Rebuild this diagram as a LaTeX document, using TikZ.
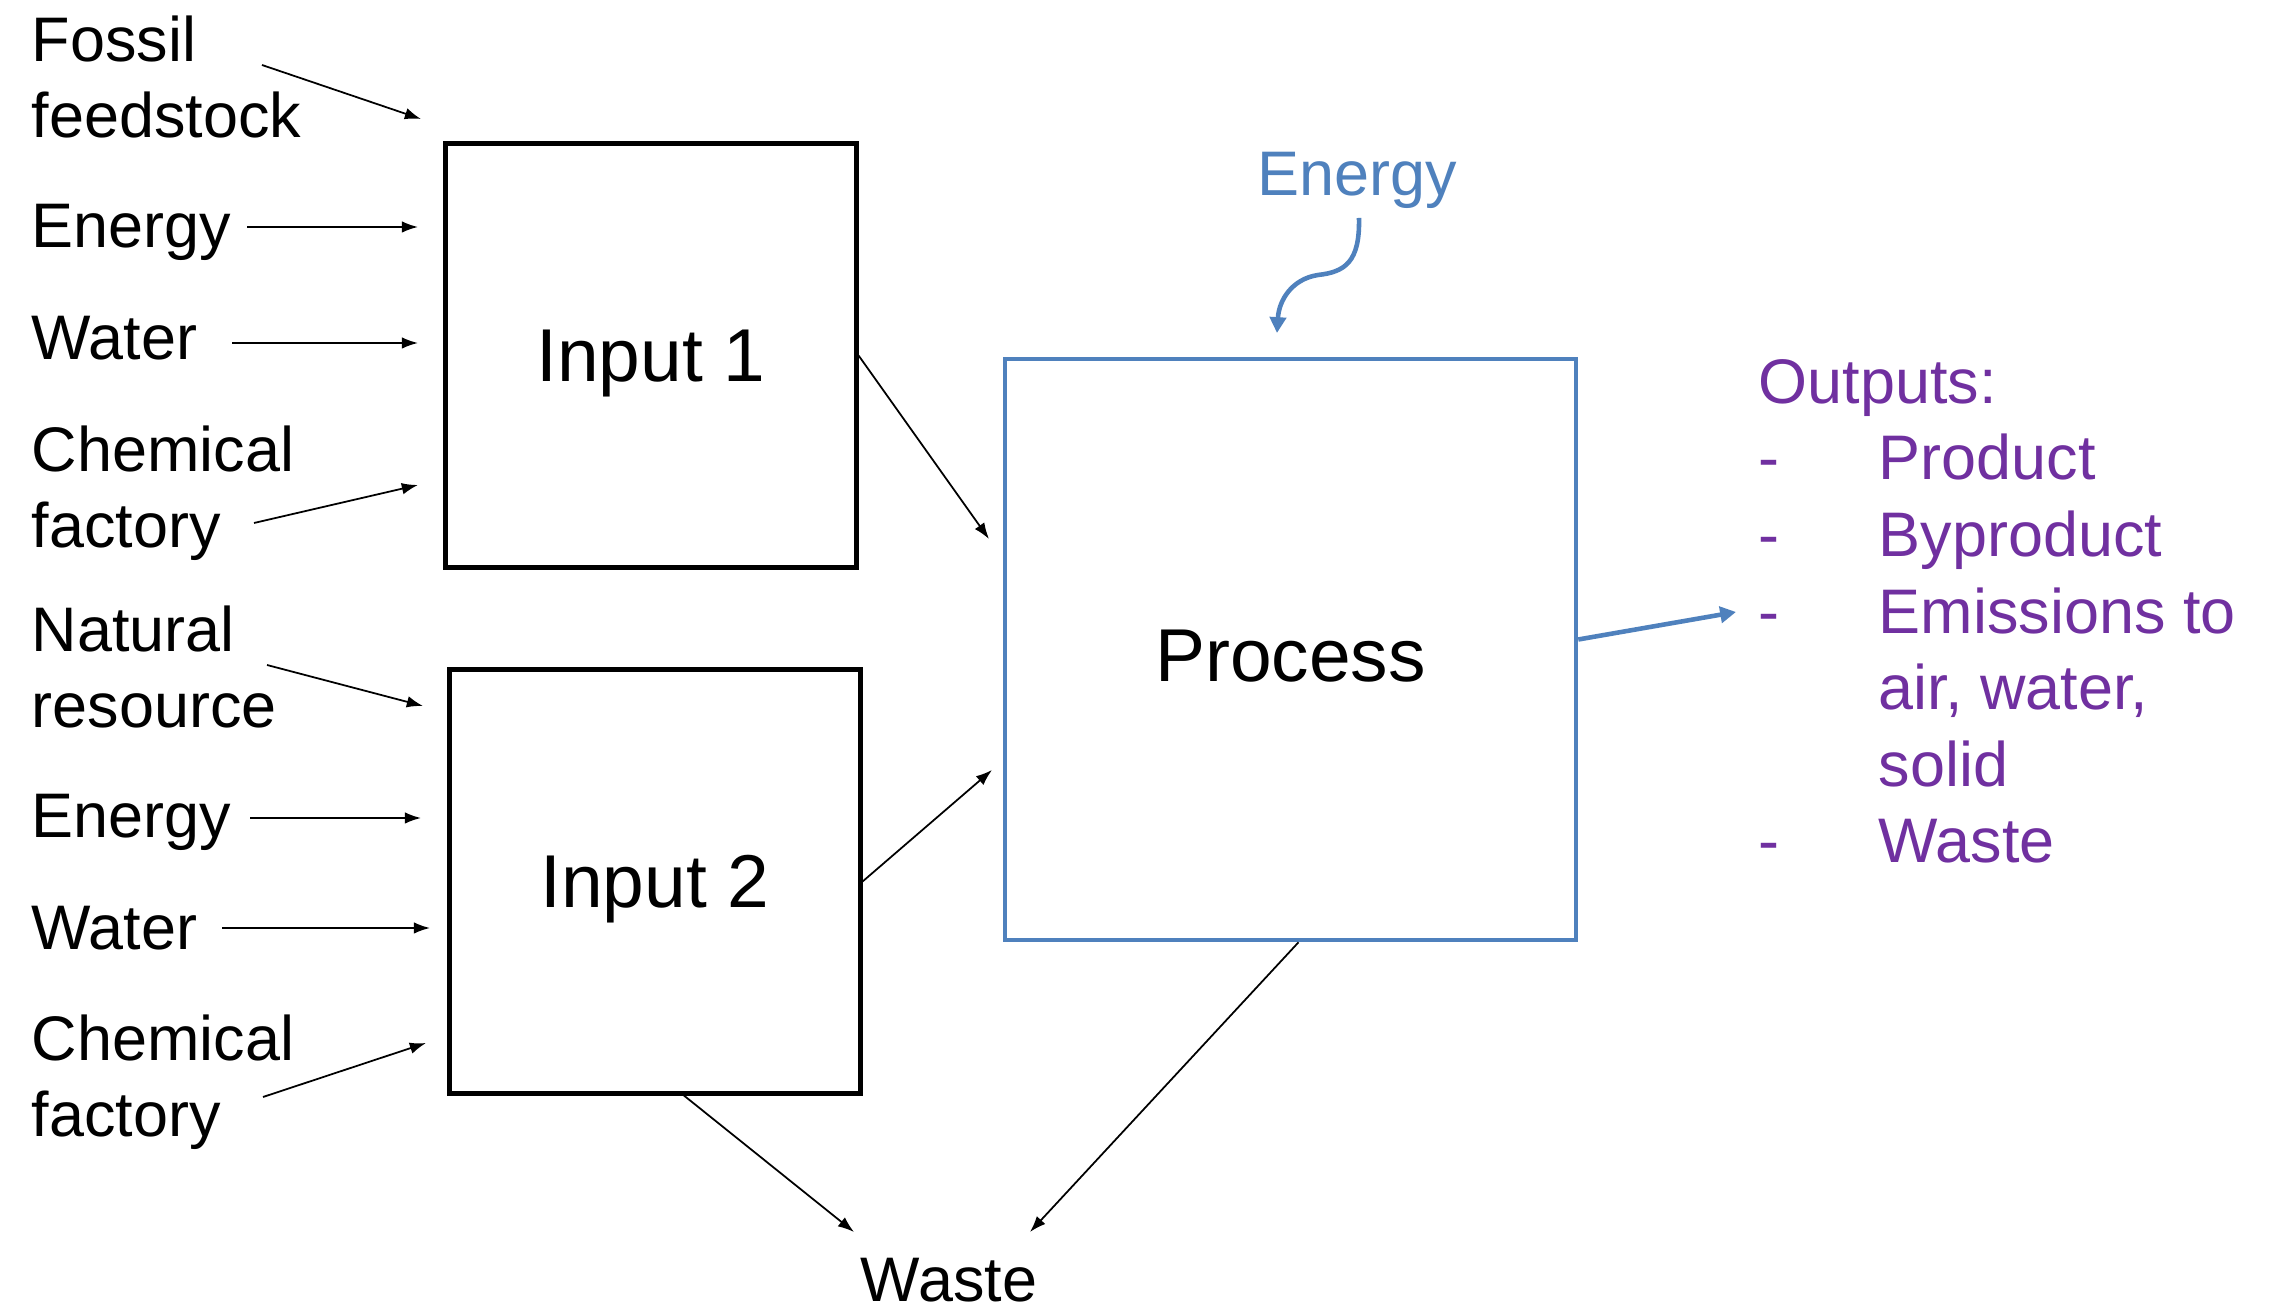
\documentclass[tikz,border=0pt]{standalone}
\usepackage{fontspec}
\setmainfont{Liberation Sans}
\usetikzlibrary{arrows.meta,calc}
\definecolor{offblue}{HTML}{4F81BD}
\definecolor{offpurple}{HTML}{7030A0}
\begin{document}
\begin{tikzpicture}[x=0.01cm,y=-0.01cm,
  lbl/.style={inner sep=0pt,anchor=base west,align=left,font=\fontsize{17.9}{21.8}\selectfont},
  boxlbl/.style={font=\fontsize{21.3}{25}\selectfont},
  blackbox/.style={draw=black,line width=1.4pt,minimum width=4.10cm,minimum height=4.23cm,boxlbl,text depth=0pt},
  thinarrow/.style={line width=0.5pt,-{Latex[length=4.6pt,width=3.3pt]}},
  bluearrow/.style={draw=offblue,line width=1.3pt,-{Triangle[length=4.5pt,width=4.6pt]}}]
\path[use as bounding box,fill=white] (0,0) rectangle (2278,1310);

% boxes
\node[blackbox] (in1) at (651,355.5) {Input 1};
\node[blackbox] (in2) at (655,881.5) {Input 2};
\node[draw=offblue,line width=1.2pt,minimum width=5.71cm,minimum height=5.81cm,boxlbl,text depth=0pt,text height=18pt] (proc) at (1290.5,649.5) {Process};

% left labels (base anchor = last line baseline)
\node[lbl] (fossil) at (31,138) {Fossil\\feedstock};
\node[lbl] (en1) at (31,248) {Energy};
\node[lbl] (wa1) at (31,360) {Water};
\node[lbl] (ch1) at (31,548) {Chemical\\factory};
\node[lbl] (nat) at (31,728) {Natural\\resource};
\node[lbl] (en2) at (31,838) {Energy};
\node[lbl] (wa2) at (31,950) {Water};
\node[lbl] (ch2) at (31,1137) {Chemical\\factory};

% top energy and outputs
\node[lbl,anchor=base,text=offblue] (entop) at (1357,196) {Energy};
\node[lbl,text=offpurple] (outs) at (1758,863) {Outputs:\\
\makebox[1.2cm][l]{-}Product\\
\makebox[1.2cm][l]{-}Byproduct\\
\makebox[1.2cm][l]{-}Emissions to\\
\hspace*{1.2cm}air, water,\\
\hspace*{1.2cm}solid\\
\makebox[1.2cm][l]{-}Waste};
\node[lbl,anchor=base] (waste) at (949,1301) {Waste};

% arrow end coordinates
\coordinate (fs) at (262,65);   \coordinate (fe) at (421,119);
\coordinate (e1s) at (247,227); \coordinate (e1e) at (418,227);
\coordinate (w1s) at (232,343); \coordinate (w1e) at (418,343);
\coordinate (c1s) at (254,523); \coordinate (c1e) at (418,485);
\coordinate (ns) at (267,665);  \coordinate (ne) at (423,706);
\coordinate (e2s) at (250,818); \coordinate (e2e) at (421,818);
\coordinate (w2s) at (222,928); \coordinate (w2e) at (430,928);
\coordinate (c2s) at (263,1097);\coordinate (c2e) at (426,1043);
\coordinate (p1e) at (989,539);
\coordinate (p2e) at (992,770);
\coordinate (wl) at (854,1232);
\coordinate (wr) at (1030,1232);
\coordinate (ets) at (1359,218);
\coordinate (ete) at (1277,333);
\coordinate (oute) at (1736,612);

\draw[thinarrow] (fs) -- (fe);
\draw[thinarrow] (e1s) -- (e1e);
\draw[thinarrow] (w1s) -- (w1e);
\draw[thinarrow] (c1s) -- (c1e);
\draw[thinarrow] (ns) -- (ne);
\draw[thinarrow] (e2s) -- (e2e);
\draw[thinarrow] (w2s) -- (w2e);
\draw[thinarrow] (c2s) -- (c2e);
\draw[thinarrow] (in1.east) -- (p1e);
\draw[thinarrow] (in2.east) -- (p2e);
\draw[thinarrow] ($(in2.south)+(29,0)$) -- (wl);
\draw[thinarrow] ($(proc.south)+(8,0)$) -- (wr);
\draw[bluearrow] (ets) .. controls (1360,262) and (1345,272) .. (1318,275) .. controls (1292,279) and (1279,300) .. (ete);
\draw[bluearrow] ($(proc.east)+(0,-10)$) -- (oute);
\end{tikzpicture}
\end{document}
